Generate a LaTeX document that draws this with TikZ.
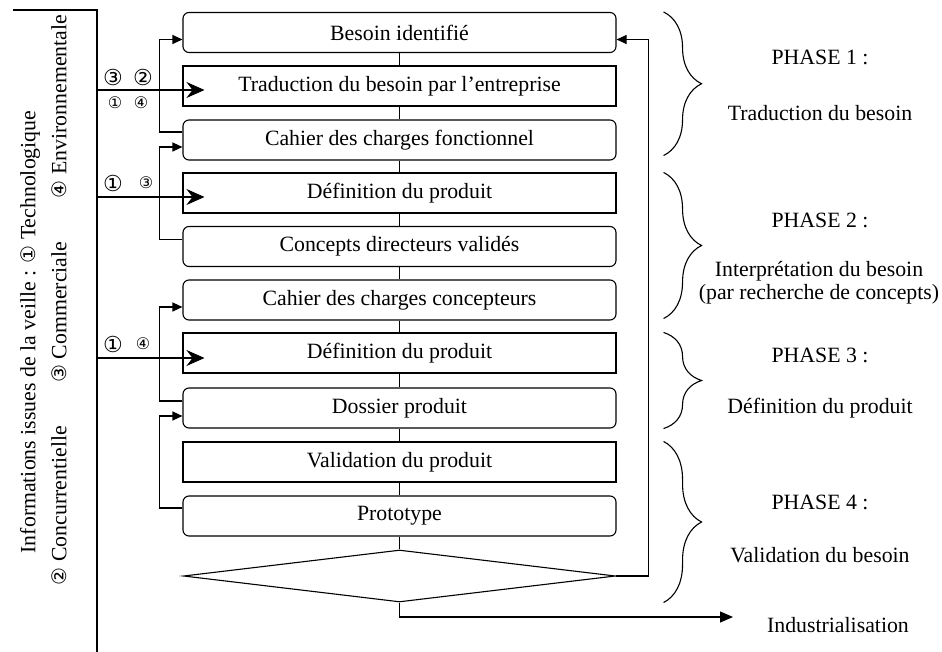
\documentclass[tikz,border=0pt]{standalone}
\usepackage{fontspec}
\setmainfont{Liberation Serif}
\newfontfamily\cerclefont{DejaVu Sans}
\usetikzlibrary{arrows.meta,shapes.geometric,decorations.pathreplacing}

\begin{document}
\begin{tikzpicture}[x=1pt,y=-1pt,line width=1.1pt,
  font=\fontsize{21.8}{23}\selectfont,
  boite/.style={draw,minimum width=433pt,minimum height=40pt,inner sep=0pt},
  arrondi/.style={boite,rounded corners=6pt},
  retour/.style={-{Triangle[length=10pt,width=9pt]}},
  veille/.style={-{Stealth[length=18pt,width=16pt,inset=6pt]}},
  gros/.style={font=\cerclefont\fontsize{22}{22}\selectfont},
  petit/.style={font=\cerclefont\fontsize{16}{16}\selectfont},
  accolade/.style={decorate,decoration={brace,amplitude=38pt}}]
  \useasboundingbox (0,0) rectangle (942,652);

  \node[arrondi] (b1) at (399.5,32.5) {Besoin identifié};
  \node[boite] (b2) at (399.5,86) {Traduction du besoin par l’entreprise};
  \node[arrondi] (b3) at (399.5,140) {Cahier des charges fonctionnel};
  \node[boite] (b4) at (399.5,193) {Définition du produit};
  \node[arrondi] (b5) at (399.5,246.5) {Concepts directeurs validés};
  \node[arrondi] (b6) at (399.5,300) {Cahier des charges concepteurs};
  \node[boite] (b7) at (399.5,353) {Définition du produit};
  \node[arrondi] (b8) at (399.5,408) {Dossier produit};
  \node[boite] (b9) at (399.5,462) {Validation du produit};
  \node[arrondi] (b10) at (399.5,516) {Prototype};
  \node[diamond,draw,minimum width=432pt,minimum height=52pt,inner sep=0pt] (dec) at (399.5,576) {};

  \draw (b1) -- (b2) -- (b3) -- (b4) -- (b5) -- (b6) -- (b7) -- (b8) -- (b9) -- (b10) -- (dec);

  \draw[retour] ([yshift=8pt]b3.west) -- ++(-23,0) |- ([yshift=-7pt]b1.west);
  \draw[retour] ([yshift=7pt]b5.west) -- ++(-23,0) |- ([yshift=-7pt]b3.west);
  \draw[retour] ([yshift=7pt]b8.west) -- ++(-23,0) |- ([yshift=-7pt]b6.west);
  \draw[retour] ([yshift=8pt]b10.west) -- ++(-23,0) |- ([yshift=-8pt]b8.west);
  \draw[retour] (dec.east) -- ++(32,0) |- ([yshift=-7pt]b1.east);

  \coordinate (v0) at (13,10);
  \coordinate (v1) at (97,10);
  \coordinate (v2) at (97,652);
  \draw (v0) -- (v1) -- (v2);
  \coordinate (i1) at ([xshift=22pt,yshift=-4pt]b2.west);
  \coordinate (i2) at ([xshift=22pt,yshift=-4pt]b4.west);
  \coordinate (i3) at ([xshift=22pt,yshift=-5pt]b7.west);
  \draw[veille] (v1 |- i1) -- (i1);
  \draw[veille] (v1 |- i2) -- (i2);
  \draw[veille] (v1 |- i3) -- (i3);

  \node[gros] (c1) at (113,77) {③};
  \node[gros] (c2) at (143,77) {②};
  \node[petit] (c3) at (115,103) {①};
  \node[petit] (c4) at (141,103) {④};
  \node[gros] (c5) at (113,183) {①};
  \node[petit] (c6) at (146,183) {③};
  \node[gros] (c7) at (113,344) {①};
  \node[petit] (c8) at (143,344) {④};

  \node[rotate=90] (t1) at (30,332) {Informations issues de la veille : {\cerclefont\fontsize{20}{20}\selectfont ①} Technologique};
  \node[rotate=90] (t2) at (59,300) {{\cerclefont\fontsize{20}{20}\selectfont ②} Concurrentielle\qquad{\cerclefont\fontsize{20}{20}\selectfont ③} Commerciale\qquad{\cerclefont\fontsize{20}{20}\selectfont ④} Environnementale};

  \coordinate (a1) at ([xshift=47pt]b1.north east);
  \coordinate (a2) at ([xshift=47pt]b4.north east);
  \coordinate (a3) at ([xshift=47pt]b7.north east);
  \coordinate (a4) at ([xshift=47pt]b9.north east);
  \draw[accolade] (a1) -- ([xshift=47pt,yshift=5pt]b3.south east);
  \draw[accolade] (a2) -- ([xshift=47pt,yshift=2pt]b6.south east);
  \draw[accolade] (a3) -- ([xshift=47pt]b8.south east);
  \draw[accolade] (a4) -- (a4 |- dec.south);

  \node (p1) at (820,57) {PHASE 1 :};
  \node (n1) at (820,113) {Traduction du besoin};
  \node (p2) at (820,220) {PHASE 2 :};
  \node[align=center] (n2) at (819,283) {Interprétation du besoin\\(par recherche de concepts)};
  \node (p3) at (820,355) {PHASE 3 :};
  \node (n3) at (820,408) {Définition du produit};
  \node (p4) at (820,502) {PHASE 4 :};
  \node (n4) at (820,555) {Validation du besoin};

  \coordinate (fin) at (733,617);
  \draw[-{Triangle[length=13pt,width=11pt]}] (dec.south) |- (fin);
  \node (ind) at (838,625) {Industrialisation};
\end{tikzpicture}
\end{document}
